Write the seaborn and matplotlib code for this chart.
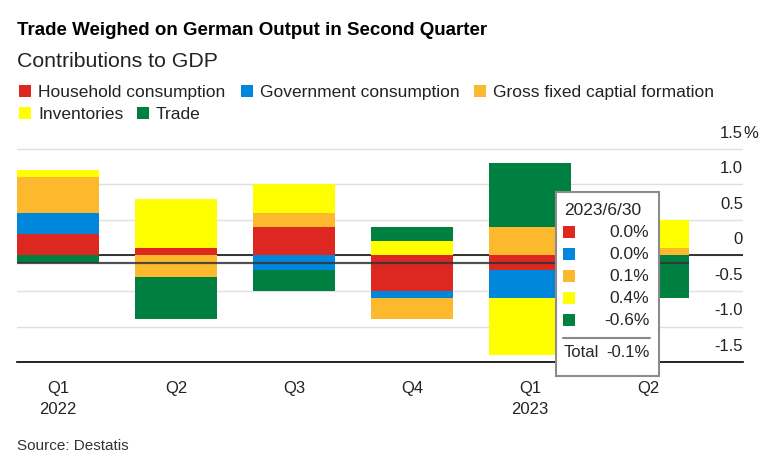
import pandas as pd
import matplotlib.pyplot as plt
import matplotlib.patches as mpatches
from matplotlib.lines import Line2D
import seaborn as sns

# data (percentage points of GDP growth)
quarters = ["2022-03-31", "2022-06-30", "2022-09-30", "2022-12-31", "2023-03-31", "2023-06-30"]
tick_labels = ["Q1\n2022", "Q2", "Q3", "Q4", "Q1\n2023", "Q2"]
series_names = ["Household consumption", "Government consumption",
                "Gross fixed captial formation", "Inventories", "Trade"]
household = [0.3, 0.1, 0.4, -0.5, -0.2, 0.0]
government = [0.3, 0.0, -0.2, -0.1, -0.4, 0.0]
capital = [0.5, -0.3, 0.2, -0.3, 0.4, 0.1]
inventories = [0.1, 0.7, 0.4, 0.2, -0.8, 0.4]
trade = [-0.1, -0.6, -0.3, 0.2, 0.9, -0.6]
colors = ["#dd2821", "#0086da", "#fdb92d", "#ffff00", "#008040"]
y_ticks = [-1.5, -1.0, -0.5, 0, 0.5, 1.0, 1.5]
y_tick_labels = ["-1.5", "-1.0", "-0.5", "0", "0.5", "1.0", "1.5"]

sns.set_style("white")
plt.rcParams["font.family"] = ["Liberation Sans", "DejaVu Sans"]

df = pd.DataFrame({"quarter": quarters})
for name, vals in zip(series_names, [household, government, capital, inventories, trade]):
    df[name] = vals

W, H = 767, 473
fx = lambda x: x / W
fy = lambda y: 1 - y / H

fig = plt.figure(figsize=(W / 100, H / 100), dpi=100)
ax = fig.add_axes([fx(17), fy(362), (743 - 17) / W, (362 - 127.7) / H])

# stacked bars: positives and negatives stacked separately from zero,
# drawn as overlapping cumulative bars
pos = df[series_names].clip(lower=0).cumsum(axis=1)
neg = df[series_names].clip(upper=0).cumsum(axis=1)
bar_w = 0.695
for stack in (pos, neg):
    for name, c in reversed(list(zip(series_names, colors))):
        sns.barplot(x=df["quarter"], y=stack[name], color=c, saturation=1,
                    width=bar_w, linewidth=0, errorbar=None, ax=ax, zorder=2)

ax.axhline(0, color="black", lw=1.1, zorder=1.5)

# hover crosshair at the last quarter's total
total_last = df[series_names].iloc[-1].sum()
ax.hlines(total_last, -bar_w / 2, len(quarters) - 1 + bar_w / 2,
          color="#333333", lw=1.6, alpha=0.85, zorder=3)

ax.set_xlim(-bar_w / 2, 5.805)
ax.set_ylim(-1.5, 1.8)
ax.set_yticks(y_ticks)
ax.yaxis.grid(True, color="#e0e0e0", lw=1)
ax.set_axisbelow(True)
ax.tick_params(axis="y", length=0, labelleft=False, labelright=False)
for s in ["top", "left", "right"]:
    ax.spines[s].set_visible(False)
ax.spines["bottom"].set_color("black")
ax.spines["bottom"].set_linewidth(1.2)
ax.set_xlabel("")
ax.set_ylabel("")
ax.set_xticks(range(len(quarters)))
ax.set_xticklabels(tick_labels, fontsize=12, color="#222222", linespacing=1.5)
ax.tick_params(axis="x", length=6, width=1.2, color="#333333", pad=7.5)

for v, lab in zip(y_ticks, y_tick_labels):
    ax.annotate(lab, xy=(1, v), xycoords=ax.get_yaxis_transform(), xytext=(0, 11.5),
                textcoords="offset points", ha="right", va="center", fontsize=12,
                color="#222222", annotation_clip=False)
ax.annotate("%", xy=(1, y_ticks[-1]), xycoords=ax.get_yaxis_transform(), xytext=(0, 11.5),
            textcoords="offset points", ha="left", va="center", fontsize=12,
            color="#222222", annotation_clip=False)

# header
fig.text(fx(17), fy(35), "Trade Weighed on German Output in Second Quarter",
         fontsize=13.5, fontweight="bold", va="baseline", color="black")
fig.text(fx(17), fy(66.7), "Contributions to GDP", fontsize=15.3, va="baseline", color="#222222")

# legend
legend_pos = [(19, 97), (241, 97), (474, 97), (19, 119), (137, 119)]
for (lx, ly), name, c in zip(legend_pos, series_names, colors):
    fig.add_artist(mpatches.Rectangle((fx(lx), fy(ly)), 12 / W, 12 / H,
                                      transform=fig.transFigure, color=c, lw=0))
    fig.text(fx(lx + 19), fy(ly), name, fontsize=12.5, va="baseline", color="#222222")

# tooltip for the last quarter
last = pd.Timestamp(quarters[-1])
fig.add_artist(mpatches.Rectangle((fx(555.5), fy(376)), (659 - 555.5) / W, (376 - 191.5) / H,
                                  transform=fig.transFigure, fc="white", ec="#8c8c8c",
                                  lw=1.5, zorder=10))
fig.text(fx(564), fy(210.7), f"{last.year}/{last.month}/{last.day}", fontsize=12.5,
         va="center", zorder=11)
row_y = [232.3, 254.3, 276.3, 298.3, 320.3]
for yc, name, c in zip(row_y, series_names, colors):
    fig.add_artist(mpatches.Rectangle((fx(563.3), fy(yc + 6)), 12 / W, 12 / H,
                                      transform=fig.transFigure, color=c, lw=0, zorder=11))
    fig.text(fx(649.5), fy(yc), f"{df[name].iloc[-1]:.1f}%", fontsize=12.5, ha="right",
             va="center", zorder=11)
fig.add_artist(Line2D([fx(563), fx(650)], [fy(337.7), fy(337.7)], transform=fig.transFigure,
                      color="#888888", lw=1.5, zorder=11))
fig.text(fx(564), fy(352.3), "Total", fontsize=12, va="center", zorder=11)
fig.text(fx(649.5), fy(352.3), f"{total_last:.1f}%", fontsize=12, ha="right", va="center", zorder=11)

fig.text(fx(17), fy(446), "Source: Destatis", fontsize=11, va="center", color="#333333")

fig.savefig("out.png", dpi=100)
